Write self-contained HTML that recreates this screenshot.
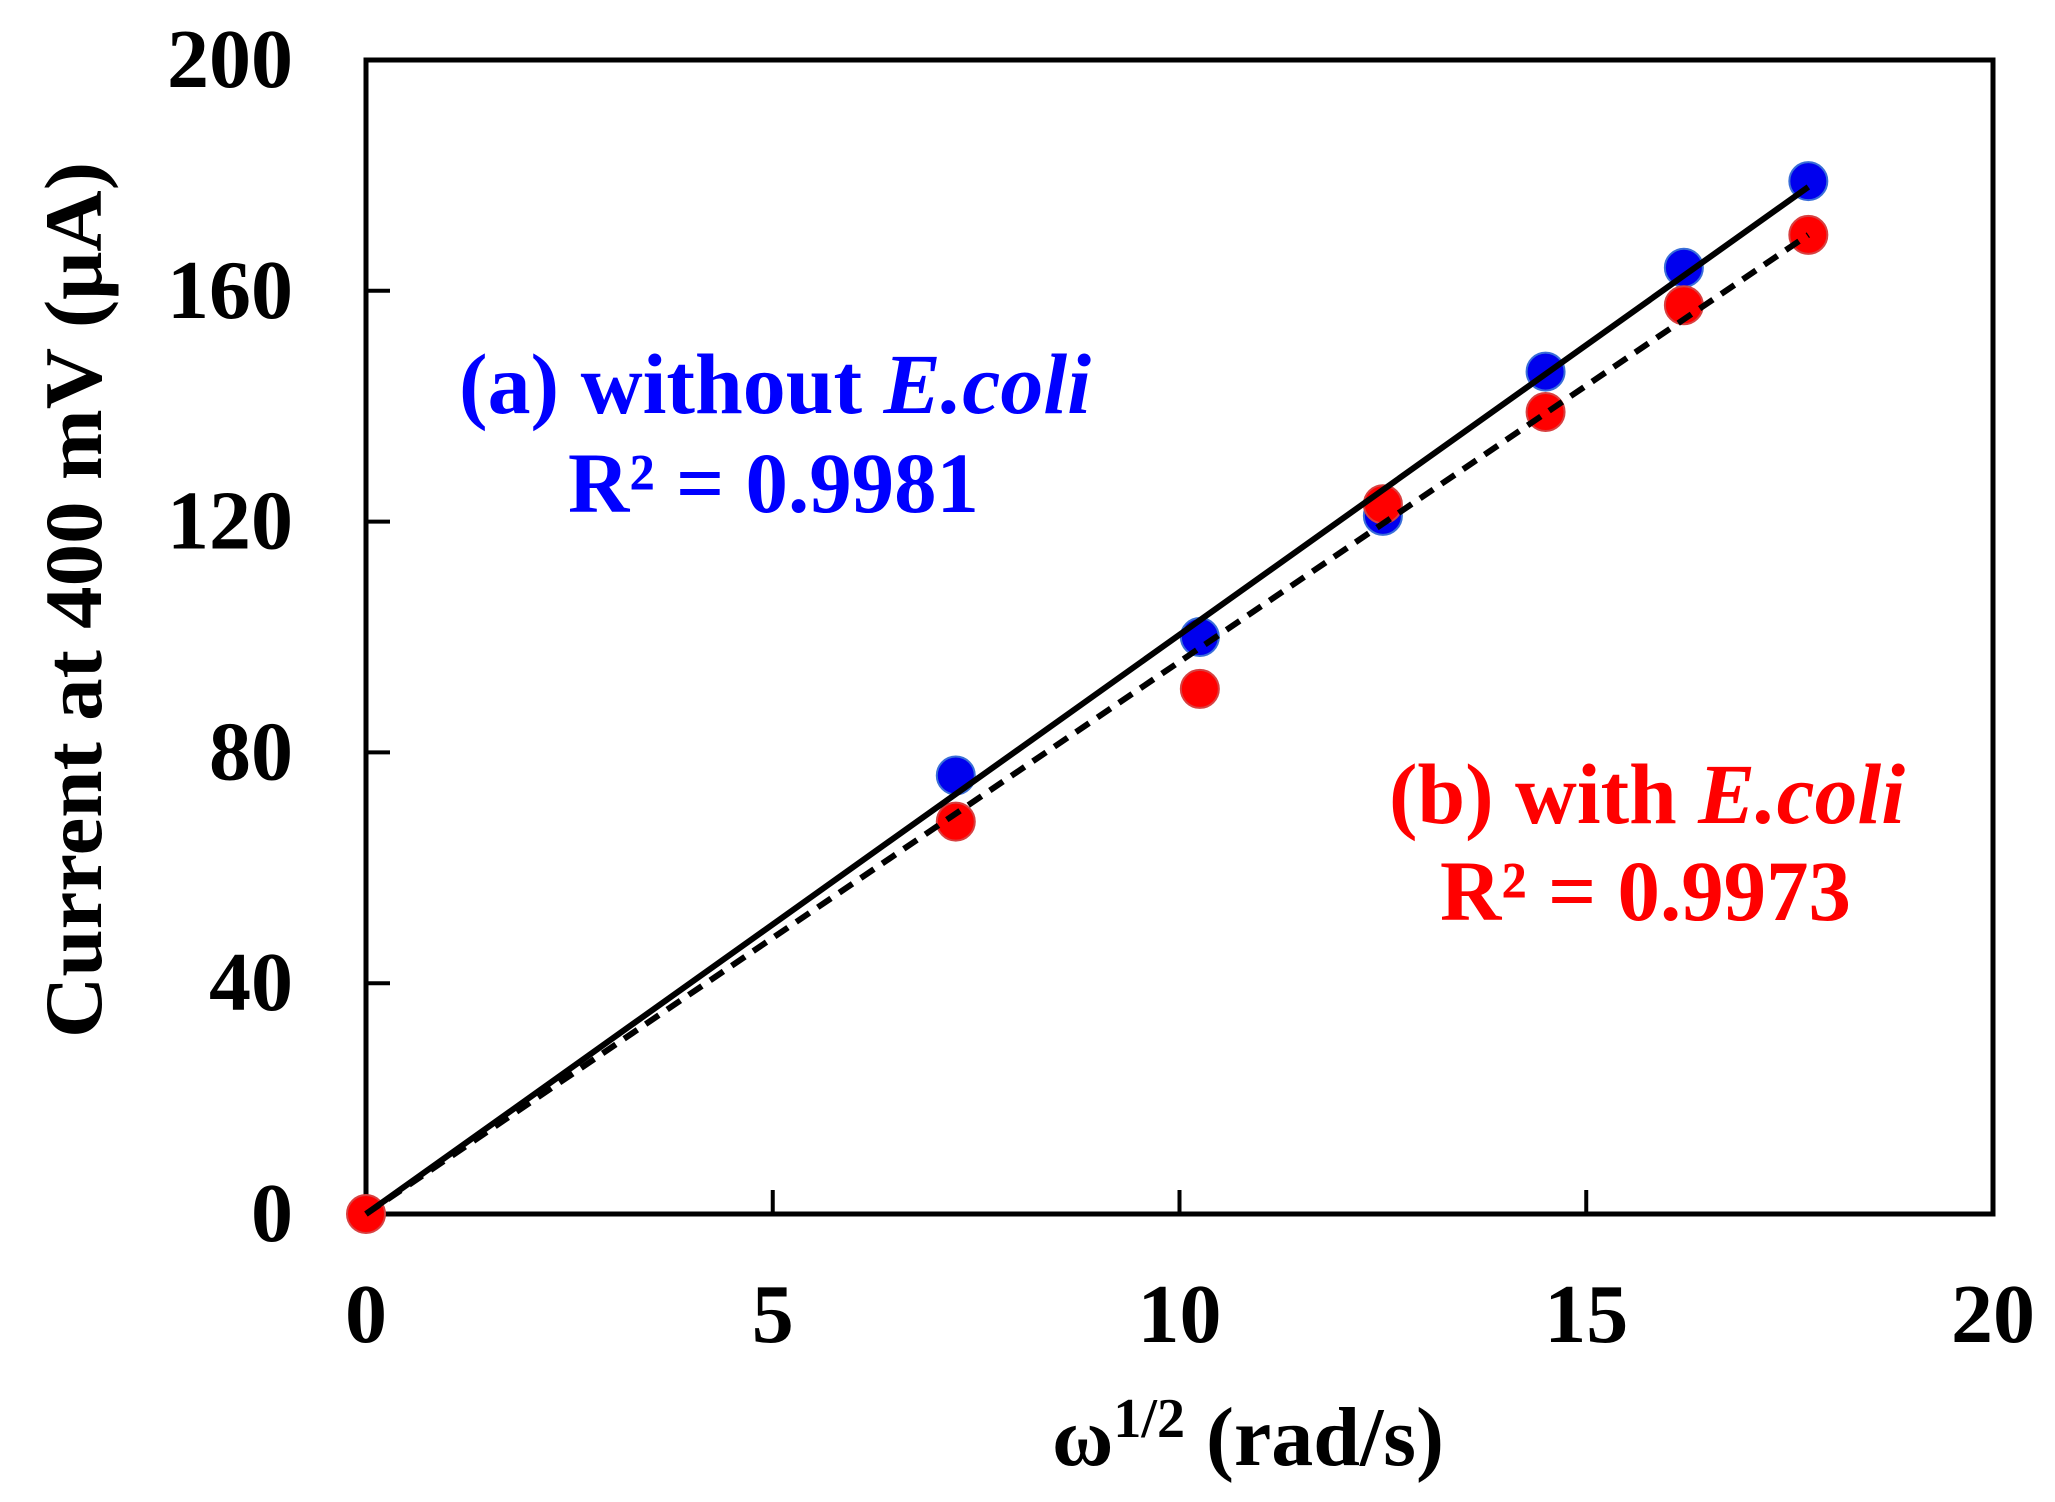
<!DOCTYPE html>
<html><head><meta charset="utf-8"><style>
html,body{margin:0;padding:0;background:#fff;}
svg{display:block;font-family:"Liberation Serif","Times New Roman",serif;font-weight:bold;}
</style></head><body>
<svg id="chart" width="2055" height="1502" viewBox="0 0 2055 1502" xmlns="http://www.w3.org/2000/svg">
<g id="grid"></g>
<rect x="366" y="60" width="1627" height="1154" fill="none" stroke="#000" stroke-width="5"/>
<g id="ticks"></g>
<g id="lines"></g>
<g id="points"></g>
<text transform="translate(101,600) rotate(-90)" text-anchor="middle" font-size="82" textLength="876" lengthAdjust="spacingAndGlyphs">Current at 400 mV (μA)</text>
<text x="1248" y="1465" text-anchor="middle" font-size="84">ω<tspan font-size="56" dy="-28">1/2</tspan><tspan dy="28"> (rad/s)</tspan></text>
<text x="459" y="413" font-size="86" fill="#0000ff" textLength="632" lengthAdjust="spacingAndGlyphs">(a) without <tspan font-style="italic">E.coli</tspan></text>
<text x="568" y="512" font-size="86" fill="#0000ff" textLength="411" lengthAdjust="spacingAndGlyphs">R² = 0.9981</text>
<text x="1389" y="823" font-size="86" fill="#ff0000" textLength="516" lengthAdjust="spacingAndGlyphs">(b) with <tspan font-style="italic">E.coli</tspan></text>
<text x="1440" y="920" font-size="86" fill="#ff0000" textLength="411" lengthAdjust="spacingAndGlyphs">R² = 0.9973</text>
</svg>
<script>
const xTicks = [0, 5, 10, 15, 20];
const yTicks = [0, 40, 80, 120, 160, 200];
const xBlue = [7.25, 10.25, 12.5, 14.5, 16.2, 17.73];
const yBlue = [76, 100, 121, 146, 164, 179];
const xRed = [0, 7.25, 10.25, 12.5, 14.5, 16.2, 17.73];
const yRed = [0, 68, 91, 123, 139, 157.5, 169.7];
const fitBlue = [0, 0, 17.73, 178];
const fitRed = [0, 0, 17.73, 169.7];

const X0 = 366, X1 = 1993, Y0 = 1214, Y1 = 60;
function sx(v){ return X0 + (v - 0) / 20 * (X1 - X0); }
function sy(v){ return Y0 - (v - 0) / 200 * (Y0 - Y1); }
const NS = 'http://www.w3.org/2000/svg';
function mk(tag, attrs, parent){
  const e = document.createElementNS(NS, tag);
  for (const k in attrs) e.setAttribute(k, attrs[k]);
  parent.appendChild(e);
  return e;
}
const ticks = document.getElementById('ticks');
xTicks.forEach(function(t){
  if (t > 0 && t < 20) {
    const l = mk('line', {x1: sx(t), x2: sx(t), y1: Y0, y2: Y0 - 24, stroke: '#000', 'stroke-width': 4}, ticks);
    
    
  }
  const tx = mk('text', {x: sx(t), y: 1342, 'text-anchor': 'middle', 'font-size': 84}, ticks);
  tx.textContent = t;
  
  
});
yTicks.forEach(function(t){
  if (t > 0 && t < 200) {
    const l = mk('line', {x1: X0, x2: X0 + 24, y1: sy(t), y2: sy(t), stroke: '#000', 'stroke-width': 4}, ticks);
    
    
  }
  const tx = mk('text', {x: 293, y: sy(t) + 27, 'text-anchor': 'end', 'font-size': 84}, ticks);
  tx.textContent = t;
  
  
});
const lines = document.getElementById('lines');
const lb = mk('line', {x1: sx(fitBlue[0]), y1: sy(fitBlue[1]), x2: sx(fitBlue[2]), y2: sy(fitBlue[3]), stroke: '#000', 'stroke-width': 6}, lines);


const lr = mk('line', {x1: sx(fitRed[0]), y1: sy(fitRed[1]), x2: sx(fitRed[2]), y2: sy(fitRed[3]), stroke: '#000', 'stroke-width': 6, 'stroke-dasharray': '16 10'}, lines);


const pts = document.getElementById('points');
xBlue.forEach(function(v, i){
  const c = mk('circle', {cx: sx(v), cy: sy(yBlue[i]), r: 19, fill: '#0000ee', stroke: '#3a6fd8', 'stroke-width': 2}, pts);
  
  
});
xRed.forEach(function(v, i){
  const c = mk('circle', {cx: sx(v), cy: sy(yRed[i]), r: 19, fill: '#ff0000', stroke: '#d84040', 'stroke-width': 2}, pts);
  
  
});
pts.parentNode.appendChild(lines);
</script>
</body></html>
